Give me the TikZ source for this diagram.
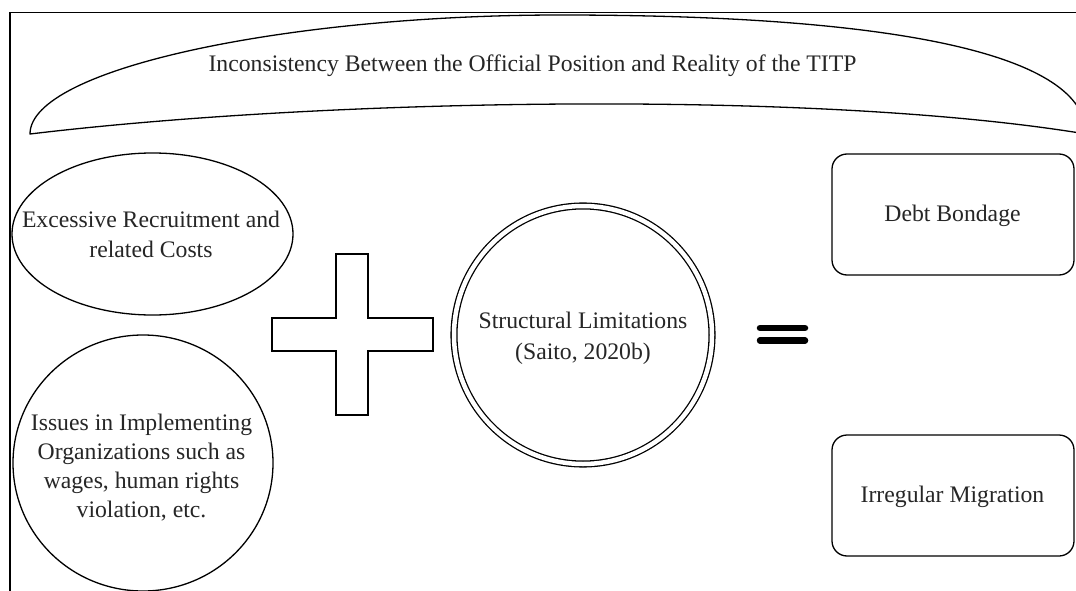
\documentclass[tikz,border=0pt]{standalone}
\usepackage{fontspec}
\setmainfont{Liberation Serif}
\usetikzlibrary{shapes.geometric}
\definecolor{ink}{HTML}{262626}
% font size with a chosen line spacing
\newcommand{\lblfont}[1]{\fontsize{23.7pt}{#1pt}\selectfont}
% struts fixing the height of the first line and the depth of the last
\newcommand{\topstrut}{\rule{0pt}{18pt}}
\newcommand{\botstrut}{\rule[-6pt]{0pt}{6pt}}
\tikzset{
  outline/.style={draw=black, line width=1.3pt, inner sep=0pt},
  txt/.style={align=center, inner sep=0pt, text=ink},
}
\begin{document}
\begin{tikzpicture}[x=1pt, y=-1pt]
\useasboundingbox (0,0) rectangle (1076,591);
\clip (0,0) rectangle (1076,591);
\fill[white] (0,0) rectangle (1076,591);

% page frame (top and left edges)
\draw[line width=1.8pt] (1080,12.5) -- (10,12.5) -- (10,595);

% arched banner
\draw[outline, line join=round] (30,134) .. controls (30,68) and (290,15) .. (560,15)
  .. controls (900,15) and (1086,55) .. (1086,134)
  .. controls (820,90) and (330,98) .. (30,134) -- cycle;
\node[txt, font=\lblfont{30}] (title) at (532.5,66)
  {\topstrut Inconsistency Between the Official Position and Reality of the TITP\botstrut};

% left-hand factors
\node[outline, ellipse, minimum width=281pt, minimum height=162pt] (costs) at (152.5,234) {};
\node[txt, font=\lblfont{30}] (costsText) at (151,236)
  {\topstrut Excessive Recruitment and\\related Costs\botstrut};

\node[outline, ellipse, minimum width=260pt, minimum height=256pt] (issues) at (143,463) {};
\node[txt, font=\lblfont{29}] (issuesText) at (141.5,467.5)
  {\topstrut Issues in Implementing\\Organizations such as\\wages, human rights\\violation, etc.\botstrut};

% plus sign
\draw[outline, line join=miter] (272,318) -- (336,318) -- (336,254) -- (368,254) -- (368,318)
  -- (433,318) -- (433,351) -- (368,351) -- (368,415) -- (336,415) -- (336,351)
  -- (272,351) -- cycle;

% structural limitations
\node[circle, draw=black, line width=1.3pt, double, double distance=4.5pt,
      minimum size=258pt, inner sep=0pt] (limits) at (583,335) {};
\node[txt, font=\lblfont{31}] (limitsText) at (583,337.5)
  {\topstrut Structural Limitations\\(Saito, 2020b)\botstrut};

% equals sign
\draw[line width=6.5pt, line cap=round] (760,328) -- (805,328) (760,340.5) -- (805,340.5);

% outcomes
\node[outline, rectangle, rounded corners=15pt, minimum width=242pt, minimum height=121pt]
  (debt) at (953,214.5) {};
\node[txt, font=\lblfont{30}] (debtText) at (952.5,215) {\topstrut Debt Bondage\botstrut};

\node[outline, rectangle, rounded corners=15pt, minimum width=242pt, minimum height=121pt]
  (irregular) at (953,495.5) {};
\node[txt, font=\lblfont{30}] (irregularText) at (952.5,496) {\topstrut Irregular Migration\botstrut};
\end{tikzpicture}
\end{document}
